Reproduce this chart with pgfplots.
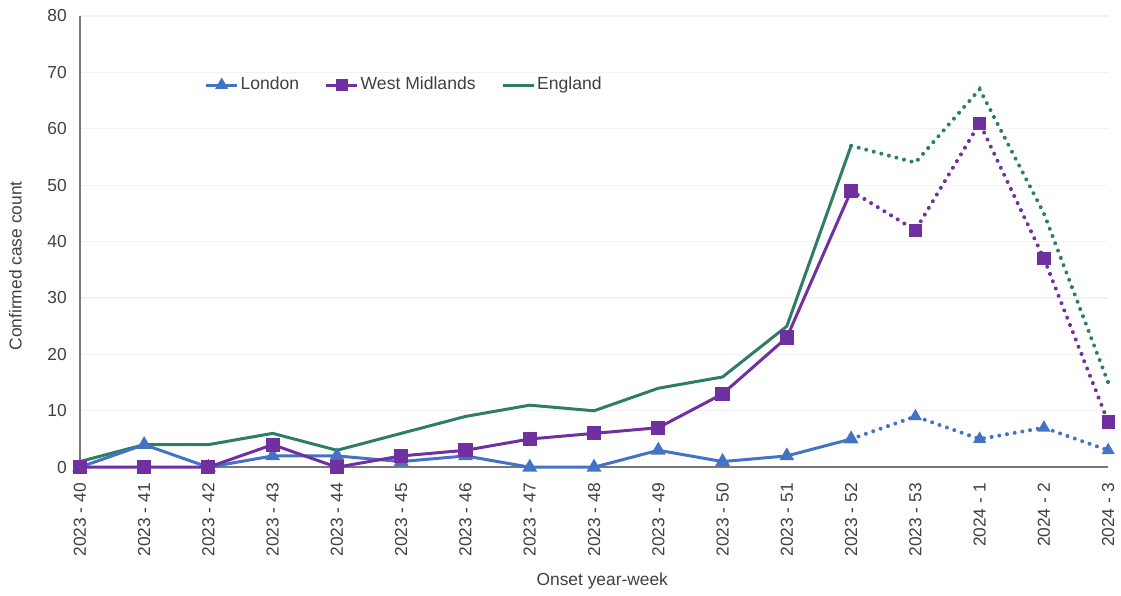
\documentclass[border=0pt]{standalone}
\usepackage{pgfplots}
\pgfplotsset{compat=1.18}
\usepackage{fontspec}
\setmainfont{Liberation Sans}
\definecolor{lon}{RGB}{68,114,196}
\definecolor{wm}{RGB}{112,48,160}
\definecolor{eng}{RGB}{46,125,102}
\definecolor{txt}{RGB}{64,64,64}
\definecolor{axc}{RGB}{120,120,120}
\definecolor{grd}{RGB}{242,242,242}
\pgfplotstableread{
x lon wm eng
0 0 0 1
1 4 0 4
2 0 0 4
3 2 4 6
4 2 0 3
5 1 2 6
6 2 3 9
7 0 5 11
8 0 6 10
9 3 7 14
10 1 13 16
11 2 23 25
12 5 49 57
}\solid
\pgfplotstableread{
x lon wm eng
12 5 49 57
13 9 42 54
14 5 61 67
15 7 37 45
16 3 8 15
}\dotted
\begin{document}
\begin{tikzpicture}
\begin{axis}[
  name=ax,
  scale only axis,
  width=515pt, height=226pt,
  xmin=0, xmax=16, ymin=0, ymax=80,
  axis x line=bottom, axis y line=left,
  axis line style={axc, line width=0.8pt, -},
  xtick={0,...,16},
  xticklabels={2023 - 40,2023 - 41,2023 - 42,2023 - 43,2023 - 44,2023 - 45,2023 - 46,2023 - 47,2023 - 48,2023 - 49,2023 - 50,2023 - 51,2023 - 52,2023 - 53,2024 - 1,2024 - 2,2024 - 3},
  ytick={0,10,...,80},
  major tick length=0pt,
  ymajorgrids, grid style={grd, line width=0.6pt},
  tick label style={font=\fontsize{8.7}{10}\selectfont, text=txt},
  /pgf/number format/assume math mode=true,
  xticklabel style={rotate=90, anchor=east, xshift=-4.5pt},
  yticklabel style={xshift=-3pt},
  xlabel={Onset year-week},
  ylabel={Confirmed case count},
  label style={font=\fontsize{8.7}{10}\selectfont, text=txt},
  xlabel style={at={(axis description cs:0.508,-0.252)}, anchor=center},
  ylabel style={at={(axis description cs:-0.0626,0.446)}, anchor=center, rotate=0},
  legend style={at={(axis description cs:0.121,0.847)}, anchor=west, draw=none, fill=none,
    font=\fontsize{8.8}{10}\selectfont, text=txt,
    nodes={inner sep=0.9pt},
    /tikz/every even column/.append style={column sep=12pt},
    inner sep=0pt},
  legend image code/.code={\draw[mark repeat=2,mark phase=2] plot coordinates {(0cm,0cm) (0.273cm,0cm) (0.546cm,0cm)};},
  legend columns=-1,
  legend cell align=left,
  clip=false,
]
\addlegendimage{lon, line width=1.5pt, mark=triangle*, mark size=2.3pt}
\addlegendentry{London}
\addlegendimage{wm, line width=1.5pt, mark=square*, mark size=2.4pt}
\addlegendentry{West Midlands}
\addlegendimage{eng, line width=1.5pt}
\addlegendentry{England}

\addplot[eng, line width=1.5pt, no marks, forget plot] table[x=x, y=eng] {\solid};
\addplot[eng, line width=2pt, no marks, dash pattern=on 0.01pt off 3.9pt, line cap=round, forget plot] table[x=x, y=eng] {\dotted};

\addplot[lon, line width=1.5pt, mark=triangle*, mark size=2.8pt, forget plot] table[x=x, y=lon] {\solid};
\addplot[lon, line width=2pt, mark=triangle*, mark size=2.8pt, dash pattern=on 0.01pt off 3.9pt, line cap=round, mark options={solid, line width=1pt}, forget plot] table[x=x, y=lon] {\dotted};

\addplot[wm, line width=1.5pt, mark=square*, mark size=2.8pt, forget plot] table[x=x, y=wm] {\solid};
\addplot[wm, line width=2pt, mark=square*, mark size=2.8pt, dash pattern=on 0.01pt off 3.9pt, line cap=round, mark options={solid, line width=1pt}, forget plot] table[x=x, y=wm] {\dotted};
\end{axis}
\path[use as bounding box] ([xshift=-40pt,yshift=-63pt]ax.south west) rectangle ([xshift=5.5pt,yshift=8pt]ax.north east);
\end{tikzpicture}
\end{document}
